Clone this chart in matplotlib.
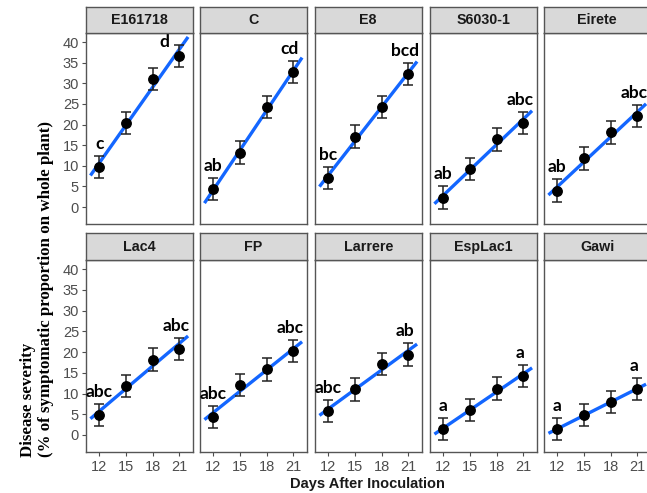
import numpy as np
import matplotlib
matplotlib.use("Agg")
import matplotlib.pyplot as plt

# data
days = [12, 15, 18, 21]
isolates = ["E161718", "C", "E8", "S6030-1", "Eirete",
            "Lac4", "FP", "Larrere", "EspLac1", "Gawi"]
severity = [
    [9.7, 20.4, 31.0, 36.7],
    [4.3, 13.2, 24.2, 32.7],
    [7.0, 17.1, 24.2, 32.2],
    [2.3, 9.2, 16.4, 20.4],
    [4.0, 11.8, 18.1, 22.0],
    [4.8, 11.8, 18.2, 20.8],
    [4.4, 12.0, 15.8, 20.2],
    [5.8, 11.0, 17.1, 19.4],
    [1.4, 6.0, 11.2, 14.2],
    [1.4, 4.8, 8.0, 11.1],
]
sem = [2.7, 2.7, 2.7, 2.7]
first_letters = ["c", "ab", "bc", "ab", "ab", "abc", "abc", "abc", "a", "a"]
last_letters = ["d", "cd", "bcd", "abc", "abc", "abc", "abc", "ab", "a", "a"]

# layout (pixels of a 647x493 canvas)
W, H = 647, 493
COL_LEFT = [86, 200, 315, 430, 544]
PANEL_W = 106.5
ROWS = [(7, 33, 224), (233, 260, 452)]  # strip top, panel top, panel bottom
BLUE = "#1366ff"
BORDER = "#555555"
TICK_COLOR = "#4d4d4d"


def fx(px):
    return px / W


def fy(py):
    return 1 - py / H


def main():
    fig = plt.figure(figsize=(W / 100, H / 100), dpi=100)

    for i, name in enumerate(isolates):
        r, c = divmod(i, 5)
        strip_top, top, bottom = ROWS[r]
        left = COL_LEFT[c]

        ax = fig.add_axes([fx(left), fy(bottom), fx(PANEL_W), (bottom - top) / H])
        sx = fig.add_axes([fx(left), fy(top), fx(PANEL_W), (top - strip_top) / H])

        # strip
        sx.set_facecolor("#d9d9d9")
        sx.set_xticks([])
        sx.set_yticks([])
        for s in sx.spines.values():
            s.set_color(BORDER)
            s.set_linewidth(1.0)
        sx.text(0.5, 0.5, name, ha="center", va="center", fontsize=10.3,
                fontweight="bold", family="Liberation Sans", color="#1a1a1a",
                transform=sx.transAxes)

        y = np.array(severity[i])
        x = np.array(days)
        slope, icpt = np.polyfit(x, y, 1)
        xl = np.array([11.0, 22.0])
        ax.plot(xl, icpt + slope * xl, color=BLUE, lw=2.4, zorder=2,
                solid_capstyle="butt")
        ax.errorbar(x, y, yerr=sem, fmt="o", color="black", ms=6.8,
                    ecolor="#222222", elinewidth=1.1, capsize=3.5,
                    capthick=1.1, zorder=3)

        # significance letters
        ax.text(12, y[0] + sem[0] + 2.9, first_letters[i], ha="center",
                va="center", fontsize=12.5, fontweight="bold", family="Lato")
        lx, ly = 20.6, y[-1] + sem[-1] + 2.9
        if ly > 40:
            lx, ly = 19.3, 40.0
        ax.text(lx, ly, last_letters[i], ha="center", va="center",
                fontsize=12.5, fontweight="bold", family="Lato")

        ax.set_xlim(10.5, 22.5)
        ax.set_ylim(-4.1, 42.2)
        ax.set_xticks(days)
        ax.set_yticks(range(0, 41, 5))
        ax.tick_params(colors=TICK_COLOR, length=3, width=0.8)
        for s in ax.spines.values():
            s.set_color(BORDER)
            s.set_linewidth(1.0)

        if c == 0:
            ax.tick_params(axis="y", labelsize=10.5, labelcolor=TICK_COLOR, pad=2)
            for t in ax.get_yticklabels():
                t.set_family("Liberation Sans")
        else:
            ax.tick_params(axis="y", left=False, labelleft=False)
        if r == 1:
            ax.tick_params(axis="x", labelsize=10.5, labelcolor=TICK_COLOR, pad=3)
            for t in ax.get_xticklabels():
                t.set_family("Liberation Sans")
        else:
            ax.tick_params(axis="x", bottom=False, labelbottom=False)

    fig.text(fx(367), fy(484), "Days After Inoculation", ha="center",
             va="center", fontsize=10.5, fontweight="bold",
             family="Liberation Sans", color="#1a1a1a")
    fig.text(fx(37), fy(457), "Disease severity\n(% of symptomatic proportion on whole plant)",
             rotation=90, ha="left", va="center", multialignment="left",
             fontsize=12.2, fontweight="bold", family="Liberation Serif",
             linespacing=1.1, rotation_mode="anchor")

    fig.savefig("out.png", dpi=100)


if __name__ == "__main__":
    main()
